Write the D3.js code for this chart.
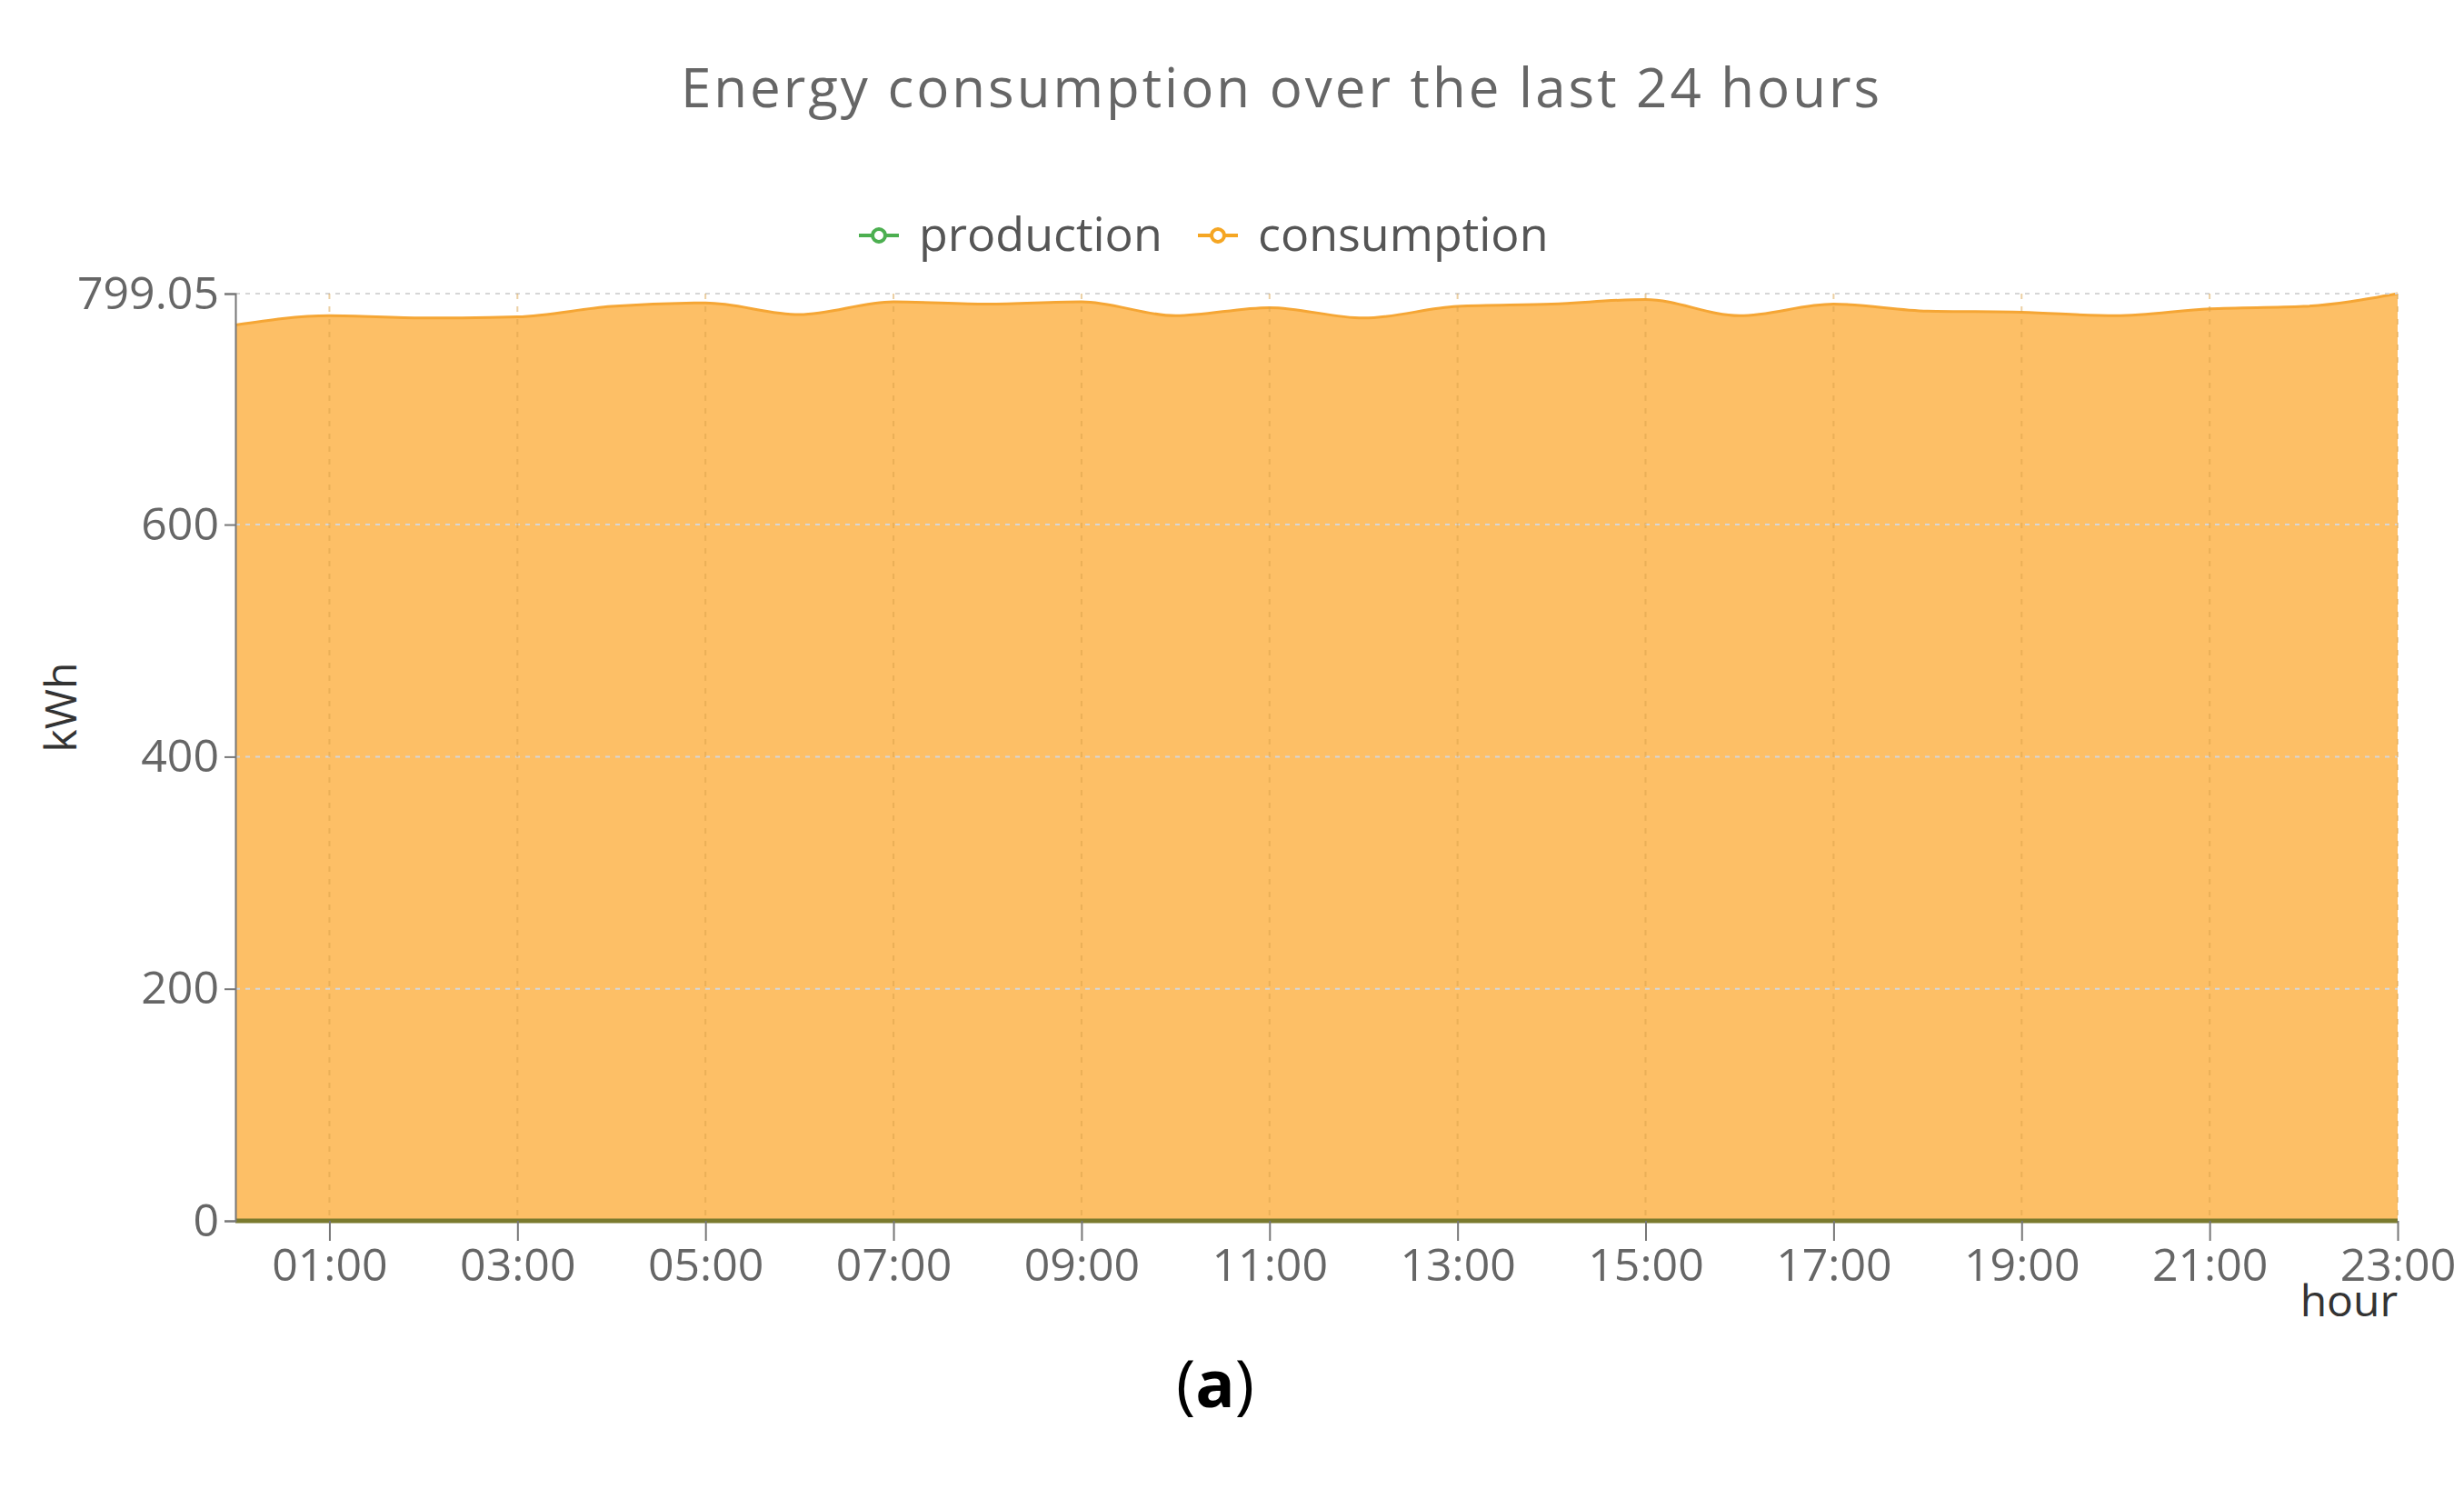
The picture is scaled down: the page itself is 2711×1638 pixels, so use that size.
<!DOCTYPE html>
<html><head><meta charset="utf-8">
<script src="https://cdn.jsdelivr.net/npm/d3@7"></script>
<style>body{margin:0;background:#fff}text{font-family:"Open Sans","Noto Sans",sans-serif}</style>
</head><body><svg id="c" width="2711" height="1638"></svg>
<script>
const hours = d3.range(0,24);
const consumption = [772,780,778,779,788,791,781,792,790,792,780,787,778,788,790,794,780,790,784,783,780,786,788,799.05];
const production = hours.map(()=>0);
const yTicks = [0,200,400,600,799.05];
const xTickHours = [1,3,5,7,9,11,13,15,17,19,21,23];

const svg = d3.select("#c");
const L=259, R=2638, T=323, B=1343;
const x = d3.scaleLinear().domain([0,23]).range([L,R]);
const y = d3.scaleLinear().domain([0,799.05]).range([B,T]);
const fmtH = h => String(h).padStart(2,"0")+":00";

svg.append("path").datum(consumption)
 .attr("d",d3.area().x((d,i)=>x(hours[i])).y0(y(0)).y1(d=>y(d)).curve(d3.curveMonotoneX))
 .attr("fill","#fdbf66");
svg.append("path").datum(consumption)
 .attr("d",d3.line().x((d,i)=>x(hours[i])).y(d=>y(d)).curve(d3.curveMonotoneX))
 .attr("fill","none").attr("stroke","#f5a635").attr("stroke-width",3);

svg.selectAll(".hg").data(yTicks.slice(1)).join("line")
 .attr("x1",L).attr("x2",R).attr("y1",d=>y(d)).attr("y2",d=>y(d))
 .attr("stroke","#d6d6d6").attr("stroke-width",2).attr("stroke-dasharray","5,6");
svg.selectAll(".vg").data(xTickHours).join("line")
 .attr("x1",d=>x(d)).attr("x2",d=>x(d)).attr("y1",T).attr("y2",B)
 .attr("stroke","#d9a24a").attr("stroke-opacity",0.5).attr("stroke-width",2).attr("stroke-dasharray","6,8");

svg.append("path").datum(production)
 .attr("d",d3.line().x((d,i)=>x(hours[i])).y(d=>y(d)))
 .attr("fill","none").attr("stroke","#7a7a2e").attr("stroke-width",5);

const ya = svg.append("g").attr("transform",`translate(${L},0)`)
 .call(d3.axisLeft(y).tickValues(yTicks).tickFormat(d=>d===799.05?"799.05":d).tickSize(12).tickPadding(6));
const xa = svg.append("g").attr("transform",`translate(0,${B})`)
 .call(d3.axisBottom(x).tickValues(xTickHours).tickFormat(fmtH).tickSize(22).tickPadding(8));
[ya,xa].forEach(a=>{a.selectAll("text").attr("font-size",50).attr("fill","#666");
 a.selectAll("line,path").attr("stroke","#777").attr("stroke-width",2);});
xa.select(".domain").remove();
svg.append("text").attr("x",R).attr("y",1448).attr("text-anchor","end").attr("font-size",48).attr("fill","#333").text("hour");
svg.append("text").attr("transform","translate(84,778) rotate(-90)").attr("text-anchor","middle").attr("font-size",48).attr("fill","#333").text("kWh");

svg.append("text").attr("x",1410).attr("y",118).attr("text-anchor","middle").attr("font-size",60).attr("fill","#666").attr("letter-spacing",3).text("Energy consumption over the last 24 hours");

const leg=[{n:"production",c:"#4caf50",x:945},{n:"consumption",c:"#f5a623",x:1318}];
leg.forEach(l=>{
 svg.append("line").attr("x1",l.x).attr("x2",l.x+44).attr("y1",259).attr("y2",259).attr("stroke",l.c).attr("stroke-width",4);
 svg.append("circle").attr("cx",l.x+22).attr("cy",259).attr("r",7).attr("fill","#fff").attr("stroke",l.c).attr("stroke-width",4);
 svg.append("text").attr("x",l.x+66).attr("y",276).attr("font-size",52).attr("fill","#555").text(l.n);
});
svg.append("text").attr("x",1337).attr("y",1548).attr("text-anchor","middle").attr("font-size",72).attr("font-family","Liberation Serif").attr("fill","#000")
 .html('(<tspan font-weight="bold">a</tspan>)');
</script></body></html>
